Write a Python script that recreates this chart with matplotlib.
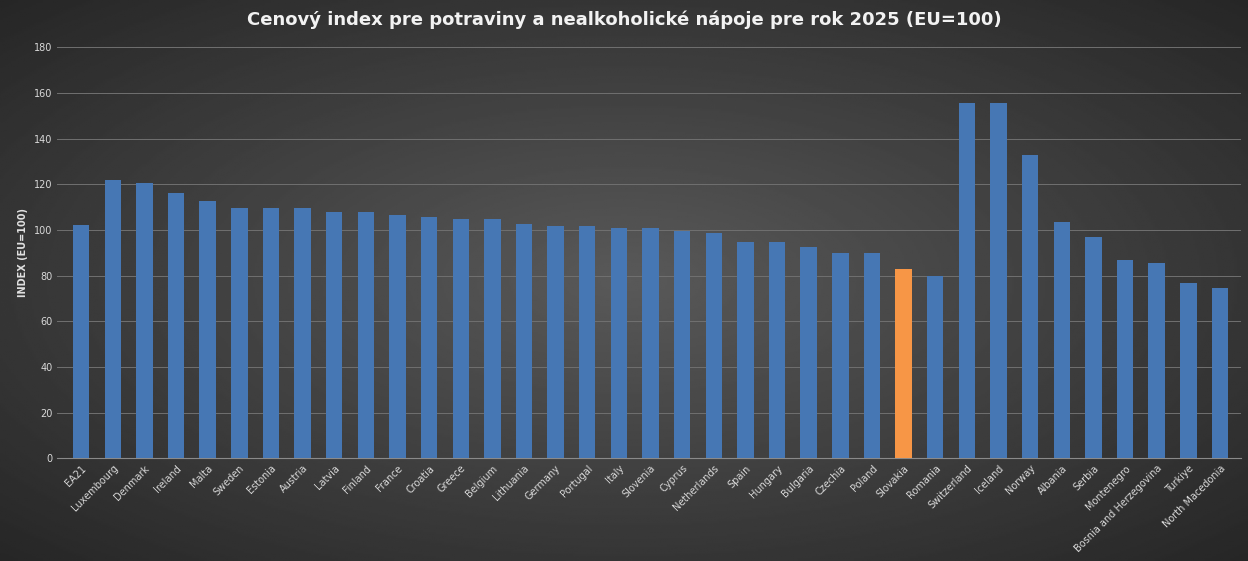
import matplotlib
matplotlib.use("Agg")
import matplotlib.pyplot as plt
import numpy as np

countries = ["EA21","Luxembourg","Denmark","Ireland","Malta","Sweden","Estonia","Austria","Latvia","Finland",
             "France","Croatia","Greece","Belgium","Lithuania","Germany","Portugal","Italy","Slovenia","Cyprus",
             "Netherlands","Spain","Hungary","Bulgaria","Czechia","Poland","Slovakia","Romania","Switzerland",
             "Iceland","Norway","Albania","Serbia","Montenegro","Bosnia and Herzegovina","Turkiye","North Macedonia"]
values = [102,122,120.5,116,112.5,109.5,109.5,109.5,108,108,
          106.5,105.5,104.7,104.7,102.5,101.7,101.7,100.8,100.8,99.5,
          98.5,94.7,94.7,92.5,89.8,89.8,82.8,79.8,155.5,
          155.5,132.8,103.4,96.8,86.8,85.5,76.7,74.6]

fig = plt.figure(figsize=(12.48,5.61), dpi=100)
bg = fig.add_axes([0,0,1,1]); bg.axis("off")
yy, xx = np.mgrid[-1:1:300j, -1:1:600j]
r = np.sqrt(xx**2 + yy**2)/np.sqrt(2)
bg.imshow(0.35 - 0.2*r, cmap="gray", vmin=0, vmax=1, aspect="auto", extent=[0,1,0,1])

ax = fig.add_axes([0.046, 0.183, 0.948, 0.733])
ax.patch.set_alpha(0)
x = np.arange(len(countries))
colors = ["#F79646" if c == "Slovakia" else "#4677B4" for c in countries]
ax.bar(x, values, width=0.52, color=colors, zorder=3)
ax.set_xlim(-0.75, len(countries)-0.35)
ax.set_ylim(0, 180)
ax.set_yticks(range(0, 181, 20))
ax.grid(axis="y", color="#707070", linewidth=0.7, zorder=0)
for s in ax.spines.values(): s.set_visible(False)
ax.spines["bottom"].set_visible(True); ax.spines["bottom"].set_color("#8a8a8a")
ax.tick_params(axis="both", colors="#d9d9d9", labelsize=7, length=0)
ax.set_xticks(x)
ax.set_xticklabels(countries, rotation=45, ha="right", rotation_mode="anchor")
ax.set_ylabel("INDEX (EU=100)", color="#e0e0e0", fontsize=7, fontweight="bold")
fig.text(0.5, 0.965, "Cenový index pre potraviny a nealkoholické nápoje pre rok 2025 (EU=100)",
         ha="center", va="center", color="#f2f2f2", fontsize=13, fontweight="bold")
fig.savefig("out.png", dpi=100)
